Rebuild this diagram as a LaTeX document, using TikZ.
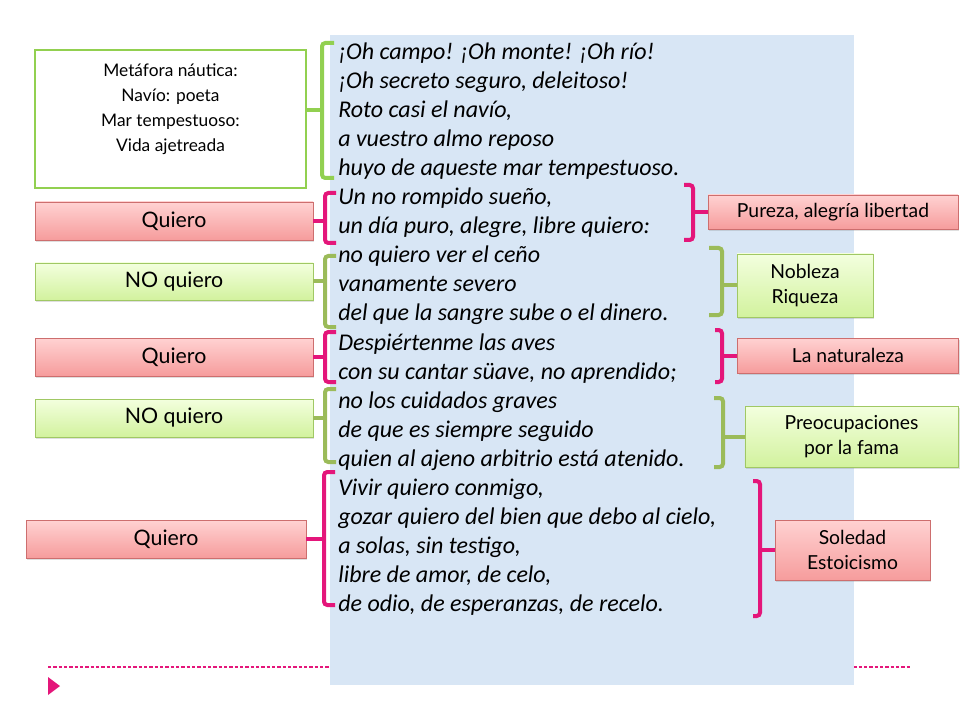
\documentclass[tikz,border=0pt]{standalone}
\usepackage{fontspec}
\setmainfont{Lato}
\newfontfamily\poemfont{Carlito}
\usetikzlibrary{positioning,shadows}
\definecolor{PoemBlue}{RGB}{216,230,245}
\definecolor{BraceGreen}{RGB}{146,208,80}
\definecolor{BraceOlive}{RGB}{155,187,89}
\definecolor{BracePink}{RGB}{228,22,122}
\definecolor{RedTop}{RGB}{255,210,210}
\definecolor{RedBot}{RGB}{246,156,156}
\definecolor{RedLine}{RGB}{205,110,110}
\definecolor{GrnTop}{RGB}{243,255,222}
\definecolor{GrnBot}{RGB}{210,242,158}
\definecolor{GrnLine}{RGB}{160,200,100}

\begin{document}
\begin{tikzpicture}[x=0.75pt, y=-0.75pt]
          \tikzset{
            rbox/.style={draw=RedLine, top color=RedTop, bottom color=RedBot, inner sep=2pt, align=center,
              drop shadow={opacity=0.25, shadow xshift=1pt, shadow yshift=-1.5pt}},
            gbox/.style={rbox, draw=GrnLine, top color=GrnTop, bottom color=GrnBot},
            lfont/.style={font=\fontsize{16}{19}\selectfont},
            rfont/.style={font=\fontsize{14.5}{19}\selectfont},
            verse/.style={anchor=base west, inner sep=0pt, font=\poemfont\itshape\fontsize{18}{21}\selectfont},
            brace/.style={line width=3pt, rounded corners=2.5pt}
          }
          \useasboundingbox (0,0) rectangle (960,720);
          % footer line and mark
          \draw[BracePink, line width=1pt, dash pattern=on 2.5pt off 1.5pt] (48,667) -- (912,667);
          \fill[BracePink] (48,677) -- (60,686) -- (48,695) -- cycle;
          % poem
          \fill[PoemBlue] (330,35) rectangle (854,685);
          \foreach \t [count=\i] in {{¡Oh campo! ¡Oh monte! ¡Oh río!},
              {¡Oh secreto seguro, deleitoso!}, {Roto casi el navío,},
              {a vuestro almo reposo}, {huyo de aqueste mar tempestuoso.},
              {Un no rompido sueño,}, {un día puro, alegre, libre quiero:},
              {no quiero ver el ceño}, {vanamente severo},
              {del que la sangre sube o el dinero.}, {Despiértenme las aves},
              {con su cantar süave, no aprendido;}, {no los cuidados graves},
              {de que es siempre seguido}, {quien al ajeno arbitrio está atenido.},
              {Vivir quiero conmigo,}, {gozar quiero del bien que debo al cielo,},
              {a solas, sin testigo,}, {libre de amor, de celo,},
              {de odio, de esperanzas, de recelo.}}
            \node[verse] (v\i) at (338,{59.5+29.05*(\i-1)}) {\t};
          % left boxes
          \node[draw=BraceGreen, line width=1.5pt, fill=white, minimum width=203pt, minimum height=103.5pt] (meta) at (170.5,119) {};
          \node[align=center, font=\fontsize{13}{18.75}\selectfont, anchor=north] (metatxt) at (170.5,59) {Metáfora náutica:\\Navío: poeta\\Mar tempestuoso:\\Vida ajetreada};
          \node[rbox, lfont, minimum width=208.5pt, minimum height=28.5pt] (q1) at (174,221) {Quiero};
          \node[gbox, lfont, minimum width=208.5pt, minimum height=27.75pt] (nq1) at (174,281.5) {NO quiero};
          \node[rbox, lfont, minimum width=208.5pt, minimum height=28.5pt] (q2) at (174,357) {Quiero};
          \node[gbox, lfont, minimum width=208.5pt, minimum height=28.5pt] (nq2) at (174,418) {NO quiero};
          \node[rbox, lfont, minimum width=210pt, minimum height=28.5pt] (q3) at (166,539) {Quiero};
          % right boxes
          \node[rbox, rfont, minimum width=187.5pt, minimum height=25.5pt] (pureza) at (833,212) {Pureza, alegría libertad};
          \node[gbox, rfont, minimum width=102pt, minimum height=47.25pt] (nobleza) at (805,285.5) {Nobleza\\Riqueza};
          \node[rbox, rfont, minimum width=165.75pt, minimum height=26.25pt] (natur) at (848,355.5) {La naturaleza};
          \node[gbox, rfont, minimum width=160pt, minimum height=45.75pt] (fama) at (851.5,436.5) {Preocupaciones\\por la fama};
          \node[rbox, rfont, minimum width=116.25pt, minimum height=45pt] (soledad) at (852.5,550) {Soledad\\Estoicismo};
          % left brackets
          \coordinate (lb1) at (322,110);
          \coordinate (lb2) at (325,221);
          \coordinate (lb3) at (325,281.5);
          \coordinate (lb4) at (325,357);
          \coordinate (lb5) at (325,418);
          \coordinate (lb6) at (324,539);
          \draw[brace, BraceGreen] (334,43) -- (322,43) -- (322,178) -- (334,178);
          \draw[brace, BraceGreen] (meta.east |- lb1) -- (lb1);
          \draw[brace, BracePink] (336,193) -- (325,193) -- (325,243) -- (336,243);
          \draw[brace, BracePink] (q1) -- (lb2);
          \draw[brace, BraceOlive] (336,256) -- (325,256) -- (325,327) -- (336,327);
          \draw[brace, BraceOlive] (nq1) -- (lb3);
          \draw[brace, BracePink] (336,332) -- (325,332) -- (325,382) -- (336,382);
          \draw[brace, BracePink] (q2) -- (lb4);
          \draw[brace, BraceOlive] (336,389) -- (325,389) -- (325,462) -- (336,462);
          \draw[brace, BraceOlive] (nq2) -- (lb5);
          \draw[brace, BracePink] (335,472) -- (324,472) -- (324,605) -- (335,605);
          \draw[brace, BracePink] (q3) -- (lb6);
          % right brackets
          \coordinate (rb1) at (693,212);
          \coordinate (rb2) at (722,285.5);
          \coordinate (rb3) at (722,355.5);
          \coordinate (rb4) at (723,436.5);
          \coordinate (rb5) at (760,550);
          \draw[brace, BracePink] (684,185) -- (693,185) -- (693,240) -- (684,240);
          \draw[brace, BracePink] (rb1) -- (pureza);
          \draw[brace, BraceOlive] (709,248) -- (722,248) -- (722,315) -- (709,315);
          \draw[brace, BraceOlive] (rb2) -- (nobleza);
          \draw[brace, BracePink] (715,330) -- (722,330) -- (722,382) -- (715,382);
          \draw[brace, BracePink] (rb3) -- (natur);
          \draw[brace, BraceOlive] (714,398) -- (723,398) -- (723,467) -- (714,467);
          \draw[brace, BraceOlive] (rb4) -- (fama);
          \draw[brace, BracePink] (753,481) -- (760,481) -- (760,616) -- (753,616);
          \draw[brace, BracePink] (rb5) -- (soledad);
        \end{tikzpicture}
\end{document}
